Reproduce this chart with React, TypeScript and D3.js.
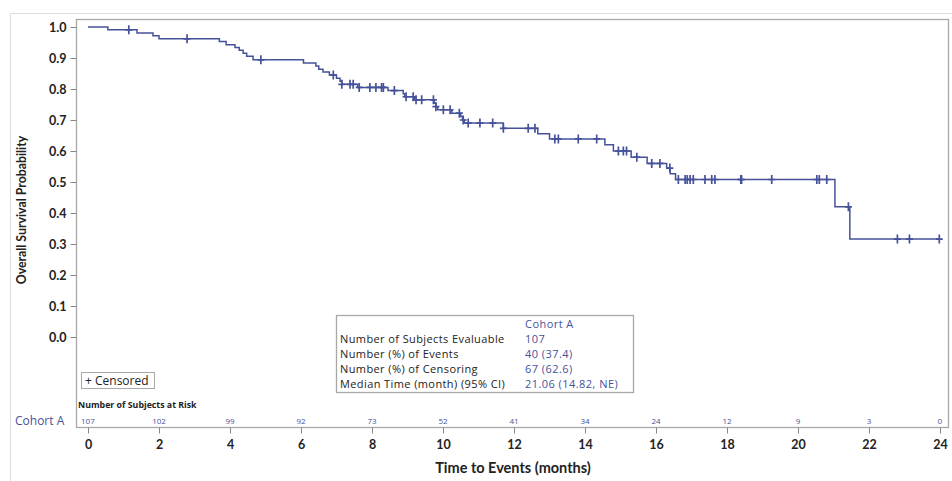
import { useEffect, useRef } from 'react';
import * as d3 from 'd3';

// Kaplan-Meier step data (time in months, survival after the drop)
const eventTimes = [0, 0.56, 1.38, 1.83, 2.0, 3.7, 3.89, 4.14, 4.26, 4.37, 4.47, 4.65,
  6.07, 6.42, 6.5, 6.62, 6.8, 7.0, 7.1, 7.15, 7.6, 8.45, 8.88, 8.92, 9.2, 9.75, 9.8, 9.85,
  10.25, 10.5, 10.55, 10.6, 11.7, 12.67, 13.0, 14.56, 14.8, 15.3, 15.75, 16.3, 16.4, 16.55,
  21.04, 21.46];
const survival = [1.0, 0.991, 0.981, 0.972, 0.962, 0.953, 0.943, 0.934, 0.925, 0.915, 0.906, 0.894,
  0.884, 0.874, 0.864, 0.855, 0.845, 0.835, 0.825, 0.815, 0.805, 0.795, 0.785, 0.775, 0.765, 0.754, 0.743, 0.733,
  0.722, 0.711, 0.700, 0.690, 0.673, 0.656, 0.639, 0.620, 0.600, 0.580, 0.560, 0.545, 0.527, 0.508,
  0.420, 0.316];

const censorTimes = [1.15, 2.79, 4.87, 6.91, 7.15, 7.38, 7.47, 7.64, 7.94, 8.11, 8.27, 8.32, 8.63,
  8.96, 9.16, 9.24, 9.4, 9.73, 9.8, 10.01, 10.2, 10.46, 10.57, 10.71, 11.04, 11.4, 11.7, 12.4, 12.59,
  13.15, 13.25, 13.81, 14.33, 14.94, 15.08, 15.17, 15.46, 15.88, 16.11, 16.39, 16.63, 16.82, 16.88,
  16.96, 17.05, 17.38, 17.57, 17.66, 18.39, 18.41, 19.26, 20.53, 20.6, 20.81, 21.42, 22.8, 23.14, 23.98];

const riskTimes = [0, 2, 4, 6, 8, 10, 12, 14, 16, 18, 20, 22, 24];
const atRisk = [107, 102, 99, 92, 73, 52, 41, 34, 24, 12, 9, 3, 0];

const yTicks = [0, 0.1, 0.2, 0.3, 0.4, 0.5, 0.6, 0.7, 0.8, 0.9, 1.0];

const statLabels = ['Number of Subjects Evaluable', 'Number (%) of Events', 'Number (%) of Censoring', 'Median Time (month) (95% CI)'];
const statValues = ['107', '40 (37.4)', '67 (62.6)', '21.06 (14.82, NE)'];

const BLUE = '#45529a';
const FONT = 'Lato, "Open Sans", sans-serif';
const FONT2 = '"Open Sans", Lato, sans-serif';

export default function App() {
  const svgRef = useRef<SVGSVGElement>(null);

  useEffect(() => {
    if (!svgRef.current) return;
    const svg = d3.select(svgRef.current);
    svg.selectAll('*').remove();

    const x = d3.scaleLinear().domain([0, 24]).range([88, 940]);
    const y = d3.scaleLinear().domain([0, 1]).range([337, 27]);

    // outer frame
    svg.append('path')
      .attr('d', 'M10.5,481V13.5H952')
      .attr('fill', 'none').attr('stroke', '#dcdcdc');

    // plot frame
    svg.append('rect')
      .attr('x', 76.5).attr('y', 19.5).attr('width', 872).attr('height', 408)
      .attr('fill', 'none').attr('stroke', '#a8a8a8').attr('stroke-width', 1.3);

    // y axis
    const yAxis = svg.append('g').attr('transform', 'translate(76.5,0)')
      .call(d3.axisLeft(y).tickValues(yTicks).tickFormat(d3.format('.1f')).tickSize(6).tickPadding(4));
    yAxis.select('.domain').remove();
    yAxis.selectAll('line').attr('stroke', '#888');
    yAxis.selectAll('text').attr('font-family', FONT).attr('font-size', 12.5)
      .attr('font-weight', 700).attr('fill', '#222');

    // x axis
    const xAxis = svg.append('g').attr('transform', 'translate(0,427.5)')
      .call(d3.axisBottom(x).tickValues(riskTimes).tickFormat(d3.format('d')).tickSize(6).tickPadding(7));
    xAxis.select('.domain').remove();
    xAxis.selectAll('line').attr('stroke', '#888');
    xAxis.selectAll('text').attr('font-family', FONT).attr('font-size', 12.5)
      .attr('font-weight', 700).attr('fill', '#222');

    // axis titles
    svg.append('text')
      .attr('transform', 'translate(26,210) rotate(-90)')
      .attr('text-anchor', 'middle')
      .attr('font-family', FONT).attr('font-size', 12.3).attr('font-weight', 700).attr('fill', '#222')
      .text('Overall Survival Probability');
    svg.append('text')
      .attr('x', 513).attr('y', 473)
      .attr('text-anchor', 'middle')
      .attr('font-family', FONT).attr('font-size', 14.5).attr('font-weight', 700).attr('fill', '#222')
      .text('Time to Events (months)');

    // KM curve
    const pts: [number, number][] = eventTimes.map((t, i) => [t, survival[i]]);
    pts.push([d3.max(censorTimes) as number, survival[survival.length - 1]]);
    const line = d3.line<[number, number]>()
      .x(d => x(d[0])).y(d => y(d[1]))
      .curve(d3.curveStepAfter);
    svg.append('path')
      .attr('d', line(pts))
      .attr('fill', 'none').attr('stroke', BLUE).attr('stroke-width', 1.5);

    // censor marks
    const survAt = (t: number) => {
      const i = d3.bisectRight(eventTimes, t) - 1;
      return survival[Math.max(0, i)];
    };
    svg.append('g').selectAll('path')
      .data(censorTimes)
      .join('path')
      .attr('transform', d => 'translate(' + x(d) + ',' + y(survAt(d)) + ')')
      .attr('d', 'M-3.5,0H3.5M0,-4.5V4.5')
      .attr('stroke', BLUE).attr('stroke-width', 1.7).attr('fill', 'none');

    // censored legend
    svg.append('rect')
      .attr('x', 81.5).attr('y', 372.5).attr('width', 73).attr('height', 16)
      .attr('fill', '#fff').attr('stroke', '#a8a8a8');
    svg.append('text')
      .attr('x', 85).attr('y', 385)
      .attr('font-family', FONT2).attr('font-size', 12).attr('fill', '#222')
      .text('+ Censored');

    // stats box
    svg.append('rect')
      .attr('x', 336.5).attr('y', 315.5).attr('width', 297).attr('height', 77)
      .attr('fill', '#fff').attr('stroke', '#a8a8a8').attr('stroke-width', 1.3);
    svg.append('text')
      .attr('x', 525).attr('y', 327.5)
      .attr('font-family', FONT2).attr('font-size', 11).attr('letter-spacing', 0.45).attr('fill', BLUE)
      .text('Cohort A');
    statLabels.forEach((lab, i) => {
      svg.append('text')
        .attr('x', 340).attr('y', 342.5 + i * 15)
        .attr('font-family', FONT2).attr('font-size', 11).attr('letter-spacing', 0.4).attr('fill', '#222')
        .text(lab);
      svg.append('text')
        .attr('x', 525).attr('y', 342.5 + i * 15)
        .attr('font-family', FONT2).attr('font-size', 11).attr('letter-spacing', 0.45).attr('fill', BLUE)
        .text(statValues[i]);
    });

    // risk table
    svg.append('text')
      .attr('x', 78).attr('y', 408)
      .attr('font-family', FONT2).attr('font-size', 8.8).attr('font-weight', 700).attr('fill', '#222')
      .text('Number of Subjects at Risk');
    svg.append('text')
      .attr('x', 15).attr('y', 425)
      .attr('font-family', FONT2).attr('font-size', 12).attr('fill', BLUE)
      .text('Cohort A');
    svg.append('g').selectAll('text')
      .data(riskTimes)
      .join('text')
      .attr('x', (d, i) => i === 0 ? x(d) - 7 : i === riskTimes.length - 1 ? x(d) + 2 : x(d))
      .attr('y', 424)
      .attr('text-anchor', (d, i) => i === 0 ? 'start' : i === riskTimes.length - 1 ? 'end' : 'middle')
      .attr('font-family', FONT2).attr('font-size', 8).attr('fill', BLUE)
      .text((d, i) => atRisk[i]);
  }, []);

  return (
    <svg
      ref={svgRef}
      width={952}
      height={481}
      style={{ position: 'absolute', left: 0, top: 0, background: '#fff' }}
    />
  );
}
